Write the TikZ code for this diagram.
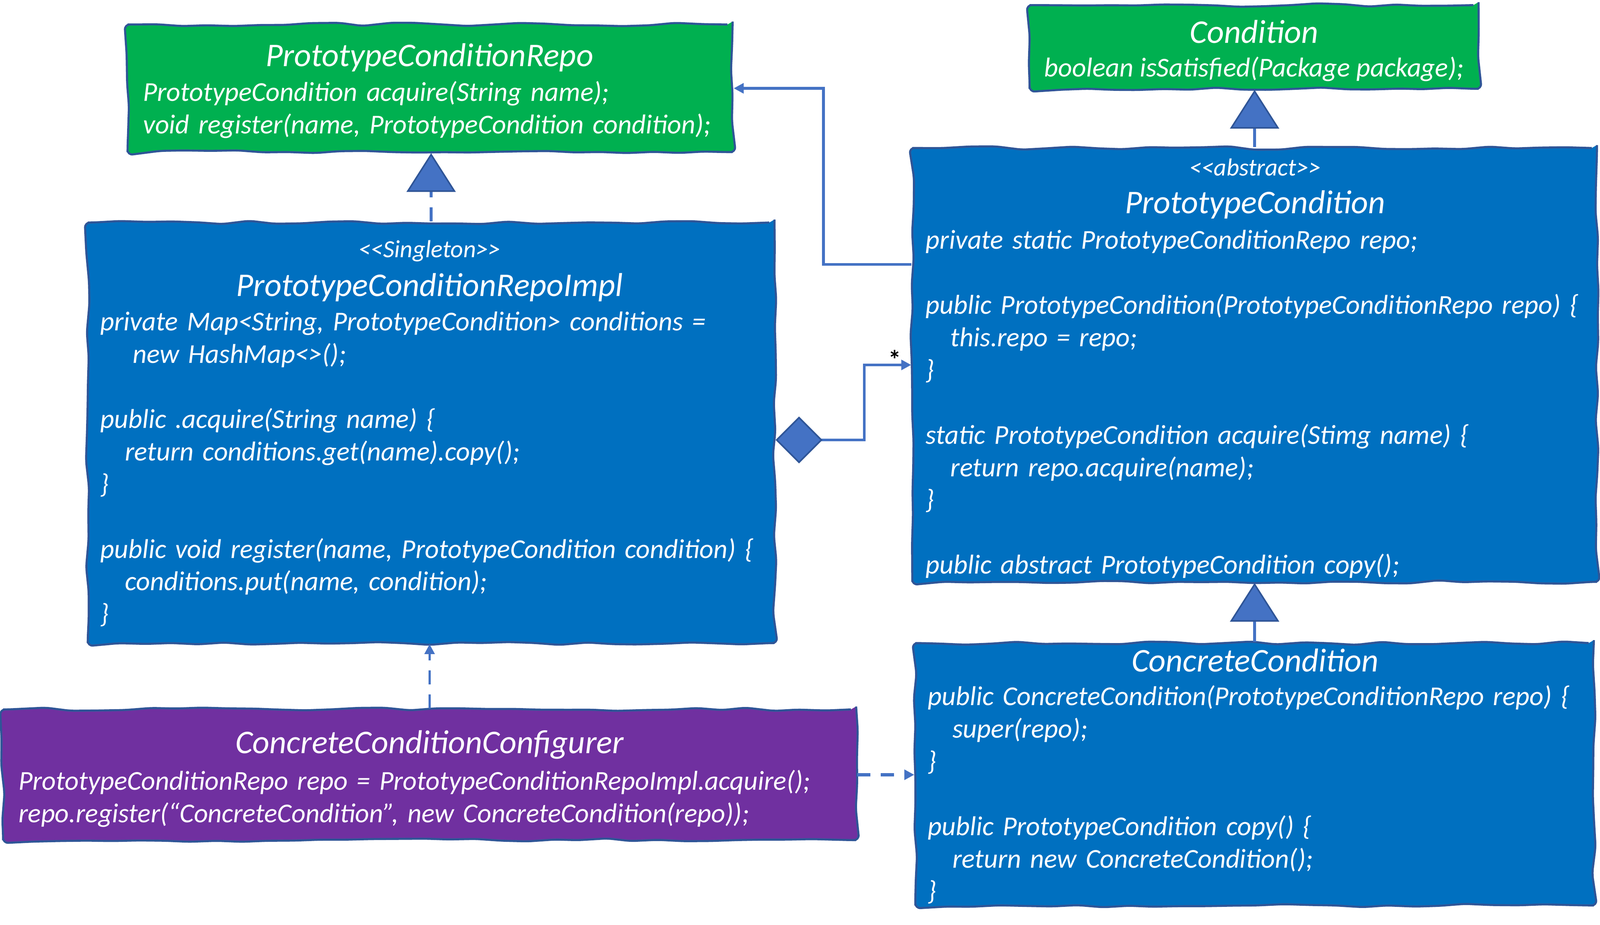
\documentclass[tikz,border=0pt]{standalone}
\usepackage{fontspec}
\setmainfont{Carlito}
\usepackage{tikz}
\usetikzlibrary{arrows.meta,positioning,fit,decorations.pathmorphing}

\definecolor{repogreen}{HTML}{00B050}
\definecolor{classblue}{HTML}{0070C0}
\definecolor{confpurple}{HTML}{7030A0}
\definecolor{edgeblue}{HTML}{2F5597}
\definecolor{arrowblue}{HTML}{4472C4}

\newcommand{\ind}{\hspace*{19pt}}
\newcommand{\lt}{\textless{}}
\newcommand{\gt}{\textgreater{}}

\begin{document}
\begin{tikzpicture}[x=0.2762mm, y=-0.2762mm, >={Triangle[length=2.7mm,width=2.7mm]},
    every node/.style={text=white, inner sep=0pt},
    classbox/.style={draw=edgeblue, line width=1.6pt, decorate,
        decoration={random steps, segment length=20pt, amplitude=1.4pt}, rounded corners=4pt},
    classname/.style={anchor=base, font=\fontsize{25.5}{30}\selectfont\itshape},
    stereo/.style={anchor=base, font=\fontsize{19}{22}\selectfont\itshape},
    codetext/.style={anchor=base west, align=left, text width=30cm, font=\fontsize{21}{25}\selectfont\itshape},
    assoc/.style={->, draw=arrowblue, line width=2.2pt},
    inherit/.style={-{Triangle[length=10.5mm, width=13.3mm, color=edgeblue, fill=arrowblue, line width=1.2pt]},
        draw=arrowblue, line width=2.2pt},
    realize/.style={inherit, dash pattern=on 3.8mm off 2.7mm},
    depend/.style={->, draw=arrowblue, line width=1.8pt, dash pattern=on 3.8mm off 2.7mm},
    usedep/.style={->, draw=arrowblue, line width=2.75pt, dash pattern=on 3.6mm off 2.8mm},
    compose/.style={{Diamond[length=12.7mm, width=12.7mm, color=edgeblue, fill=arrowblue, line width=1.2pt]}->,
        draw=arrowblue, line width=2.2pt}
    ]
\useasboundingbox (0,0) rectangle (1568,906);
% \draw[help lines] (0,0) grid[step=100] (1568,906);

% class boxes
\node[classbox, fill=repogreen, fit={(125,24) (718,149)}] (repo) {};
\node[classbox, fill=repogreen, fit={(1009,5) (1449,87)}] (cond) {};
\node[classbox, fill=classblue, fit={(894,145) (1565,570)}] (proto) {};
\node[classbox, fill=classblue, fit={(86,218) (759,630)}] (impl) {};
\node[classbox, fill=classblue, fit={(897,630) (1562,887)}] (concrete) {};
\node[classbox, fill=confpurple, fit={(3,695) (839,823)}] (conf) {};

% PrototypeConditionRepo
\node[classname] (reponame) at (421,65) {PrototypeConditionRepo};
\node[codetext] (repobody) at (140,99) {PrototypeCondition acquire(String name);\\
void register(name, PrototypeCondition condition);};

% Condition
\node[classname] (condname) at (1229,42) {Condition};
\node[anchor=base, font=\fontsize{21}{25}\selectfont\itshape] (condbody) at (1229,75) {boolean isSatisfied(Package package);};

% PrototypeCondition
\node[stereo] (protostereo) at (1230,172) {\lt\lt abstract\gt\gt};
\node[classname] (protoname) at (1230,209) {PrototypeCondition};
\node[codetext] (protobody) at (907,244) {private static PrototypeConditionRepo repo;\\[25pt]
public PrototypeCondition(PrototypeConditionRepo repo) \{\\
\ind this.repo = repo;\\
\}\\[25pt]
static PrototypeCondition acquire(Stimg name) \{\\
\ind return repo.acquire(name);\\
\}\\[25pt]
public abstract PrototypeCondition copy();};

% PrototypeConditionRepoImpl
\node[stereo] (implstereo) at (421,252) {\lt\lt Singleton\gt\gt};
\node[classname] (implname) at (421,290) {PrototypeConditionRepoImpl};
\node[codetext] (implbody) at (98,324) {private Map\lt String, PrototypeCondition\gt\ conditions =\\
\hspace*{25pt}new HashMap\lt\gt();\\[25pt]
public .acquire(String name) \{\\
\ind return conditions.get(name).copy();\\
\}\\[25pt]
public void register(name, PrototypeCondition condition) \{\\
\ind conditions.put(name, condition);\\
\}};

% ConcreteCondition
\node[classname] (concretename) at (1230,658) {ConcreteCondition};
\node[codetext] (concretebody) at (909,691) {public ConcreteCondition(PrototypeConditionRepo repo) \{\\
\ind super(repo);\\
\}\\[25pt]
public PrototypeCondition copy() \{\\
\ind return new ConcreteCondition();\\
\}};

% ConcreteConditionConfigurer
\node[classname] (confname) at (421,738) {ConcreteConditionConfigurer};
\node[codetext] (confbody) at (18,774) {PrototypeConditionRepo repo = PrototypeConditionRepoImpl.acquire();\\
repo.register(“ConcreteCondition”, new ConcreteCondition(repo));};

% connectors
\coordinate (bend) at (807,259);
\coordinate (joint) at (847,431);
\draw[realize] (impl.north) -- (impl.north |- repo.south);
\draw[inherit] (proto.north) -- (proto.north |- cond.south);
\draw[inherit] (concrete.north) -- (concrete.north |- proto.south);
\draw[assoc] (bend -| proto.west) -- (bend) |- (repo.east);
\draw[compose] (joint -| impl.east) -- (joint) |- (proto.west);
\node[anchor=base east, text=black, font=\fontsize{20}{20}\selectfont\bfseries] (many) at ([xshift=-2.6mm, yshift=-1mm]proto.west) {*};
\draw[depend] (conf.north) -- (conf.north |- impl.south);
\draw[usedep] (conf.east) -- (conf.east -| concrete.west);
\end{tikzpicture}
\end{document}
